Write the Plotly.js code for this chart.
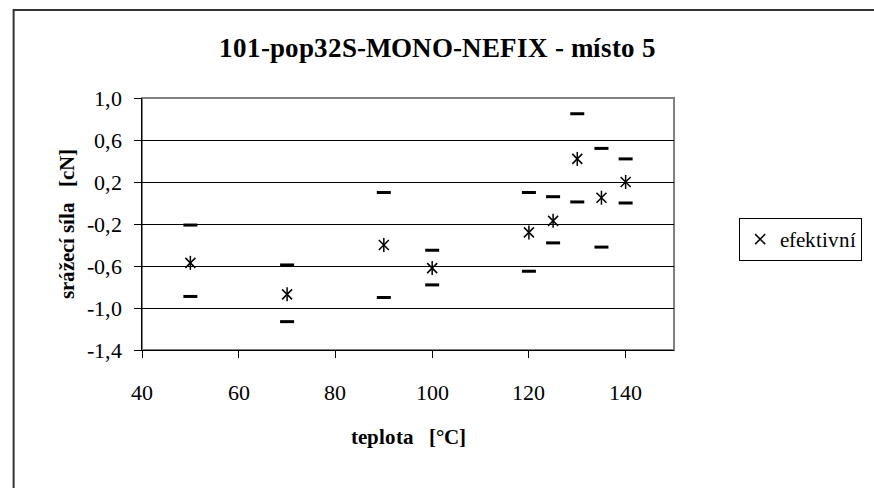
<!DOCTYPE html>
<html>
<head>
<meta charset="utf-8">
<script src="https://cdn.plot.ly/plotly-3.0.1.min.js"></script>
<style>
@font-face{font-family:'TNRX';font-weight:400;font-style:normal;
  src:local('Liberation Serif'),local('LiberationSerif'),local('Times New Roman'),local('TimesNewRomanPSMT');}
@font-face{font-family:'TNRX';font-weight:700;font-style:normal;
  src:local('Liberation Serif Bold'),local('LiberationSerif-Bold'),local('Times New Roman Bold'),local('TimesNewRomanPS-BoldMT');}
html,body{margin:0;padding:0;background:#fff;overflow:hidden;}
#chart{width:874px;height:488px;}
</style>
</head>
<body>
<div id="chart"></div>
<script>
// Data
var teplota = [50, 70, 90, 100, 120, 125, 130, 135, 140];
var efektivni = [-0.57, -0.87, -0.40, -0.62, -0.28, -0.17, 0.42, 0.05, 0.20];
var maxima = [-0.21, -0.59, 0.10, -0.45, 0.10, 0.06, 0.85, 0.52, 0.42];
var minima = [-0.89, -1.13, -0.90, -0.78, -0.65, -0.38, 0.01, -0.42, 0.00];
var yTickVals = [-1.4, -1.0, -0.6, -0.2, 0.2, 0.6, 1.0];
var yTickText = ['-1,4', '-1,0', '-0,6', '-0,2', '0,2', '0,6', '1,0'];
var xTickVals = [40, 60, 80, 100, 120, 140];
var xTickText = ['40', '60', '80', '100', '120', '140'];

var FONT = 'TNRX, Times New Roman, Liberation Serif, serif';

var traces = [
  {
    x: teplota, y: maxima, type: 'scatter', mode: 'markers', showlegend: false,
    marker: {symbol: 'line-ew-open', size: 10, color: '#000', line: {color: '#000', width: 3}}
  },
  {
    x: teplota, y: minima, type: 'scatter', mode: 'markers', showlegend: false,
    marker: {symbol: 'line-ew-open', size: 10, color: '#000', line: {color: '#000', width: 3}}
  },
  {
    x: teplota, y: efektivni, type: 'scatter', mode: 'markers', showlegend: false,
    marker: {symbol: 'line-ns-open', size: 10, color: '#000', line: {color: '#000', width: 1.5}}
  },
  {
    x: teplota, y: efektivni, type: 'scatter', mode: 'markers', name: 'efektivní',
    marker: {symbol: 'x-thin-open', size: 10, color: '#000', line: {color: '#000', width: 1.5}}
  }
];

var L = 142, R = 689, T = 98, B = 350, W = 874, H = 488;
var pw = R - L, ph = B - T;

var layout = {
  width: W, height: H,
  margin: {l: L, r: W - R, t: T, b: H - B, pad: 0},
  font: {family: FONT, color: '#000', size: 20},
  title: {
    text: '<b>101-pop32S-MONO-NEFIX - místo 5</b>',
    font: {family: FONT, size: 27},
    x: 0.5, xref: 'container', xanchor: 'center',
    y: 1 - 48 / H, yref: 'container', yanchor: 'middle'
  },
  xaxis: {
    range: [40, 150], tickvals: xTickVals, ticktext: xTickText,
    automargin: false,
    ticks: 'outside', ticklen: 7, tickwidth: 1, tickcolor: '#000',
    showline: true, linecolor: '#000', linewidth: 1,
    showgrid: false, zeroline: false,
    tickfont: {family: FONT, size: 22},
    ticklabelstandoff: 16,
    title: {text: '<b>teplota   [°C]</b>', font: {family: FONT, size: 21}, standoff: 24}
  },
  yaxis: {
    range: [-1.4, 1.0], tickvals: yTickVals, ticktext: yTickText,
    automargin: false,
    ticks: 'outside', ticklen: 7, tickwidth: 1, tickcolor: '#000',
    showline: true, linecolor: '#000', linewidth: 1,
    showgrid: true, gridcolor: '#000', gridwidth: 1, zeroline: false,
    tickfont: {family: FONT, size: 22},
    ticklabelstandoff: 8,
    title: {text: '<b>srážecí síla   [cN]</b>', font: {family: FONT, size: 21}, standoff: 6}
  },
  legend: {
    x: (756 - L) / pw, y: (B - 218) / ph, xanchor: 'left', yanchor: 'top',
    bgcolor: '#fff', bordercolor: '#000', borderwidth: 1,
    font: {family: FONT, size: 21},
    itemwidth: 30, tracegroupgap: 0
  },
  shapes: [
    {type: 'rect', xref: 'paper', yref: 'paper', x0: 0, x1: 1, y0: 0, y1: 1,
     line: {color: '#808080', width: 2}, layer: 'below'},
    {type: 'rect', xref: 'paper', yref: 'paper',
     x0: (10 - L) / pw, x1: (W + 40 - L) / pw,
     y0: (B - (H + 40)) / ph, y1: (B - 10) / ph,
     line: {color: '#333', width: 2}, fillcolor: 'rgba(0,0,0,0)', layer: 'above'}
  ]
};

var config = {displayModeBar: false, staticPlot: true};
function draw() { Plotly.newPlot('chart', traces, layout, config); }
draw();
if (document.fonts && document.fonts.load) {
  Promise.all([
    document.fonts.load('22px TNRX'),
    document.fonts.load('bold 22px TNRX')
  ]).then(draw, function () {});
}
</script>
</body>
</html>
